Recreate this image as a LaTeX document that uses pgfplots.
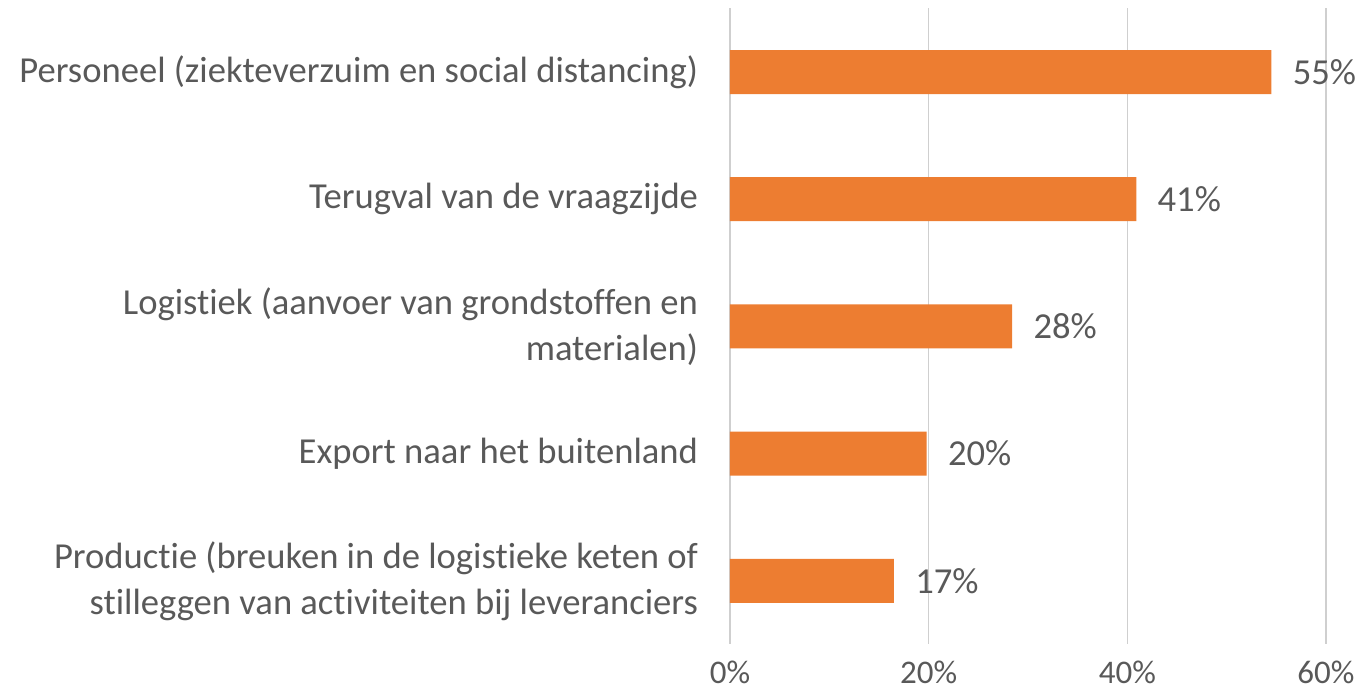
\documentclass[border=0pt]{standalone}
\usepackage{pgfplots}
\pgfplotsset{compat=1.18}
\usepackage{fontspec}
\setmainfont{Carlito}[Ligatures=NoCommon]
\definecolor{barc}{HTML}{ED7D31}
\definecolor{txt}{HTML}{595959}
\definecolor{grd}{HTML}{CFCFCF}
\begin{document}
\begin{tikzpicture}
\begin{axis}[
  name=ax,
  xbar, bar width=22pt,
  scale only axis, width=298pt, height=318pt,
  xmin=0, xmax=60, ymin=-0.5, ymax=4.5, y dir=reverse,
  ytick={0,1,2,3,4},
  yticklabels={Personeel (ziekteverzuim en social distancing),
    Terugval van de vraagzijde,
    {Logistiek (aanvoer van grondstoffen en\\materialen)},
    Export naar het buitenland,
    {Productie (breuken in de logistieke keten of\\stilleggen van activiteiten bij leveranciers}},
  xtick={0,20,40,60},
  xticklabel={\pgfmathprintnumber{\tick}\%},
  /pgf/number format/assume math mode=true,
  axis line style={draw=none},
  major tick length=0pt,
  xmajorgrids, grid style={grd, line width=0.8pt},
  ymajorgrids=false,
  yticklabel style={font=\fontsize{18.3}{23}\selectfont, text=txt, align=right, xshift=-12.5pt},
  xticklabel style={font=\fontsize{16.5}{20}\selectfont, text=txt, yshift=-5pt},
  nodes near coords,
  point meta=explicit symbolic,
  every node near coord/.append style={font=\fontsize{18.3}{23}\selectfont, text=txt, anchor=west, inner sep=0pt, xshift=10.5pt},
]
\addplot[fill=barc, draw=none] table[meta=lab] {
x y lab
54.5 0 55\%
40.9 1 41\%
28.4 2 28\%
19.8 3 20\%
16.5 4 17\%
};
\end{axis}
\pgfresetboundingbox
\path ([shift={(-365pt,-24.7pt)}]ax.south west) rectangle ([shift={(18pt,4.2pt)}]ax.north east);
\end{tikzpicture}
\end{document}
